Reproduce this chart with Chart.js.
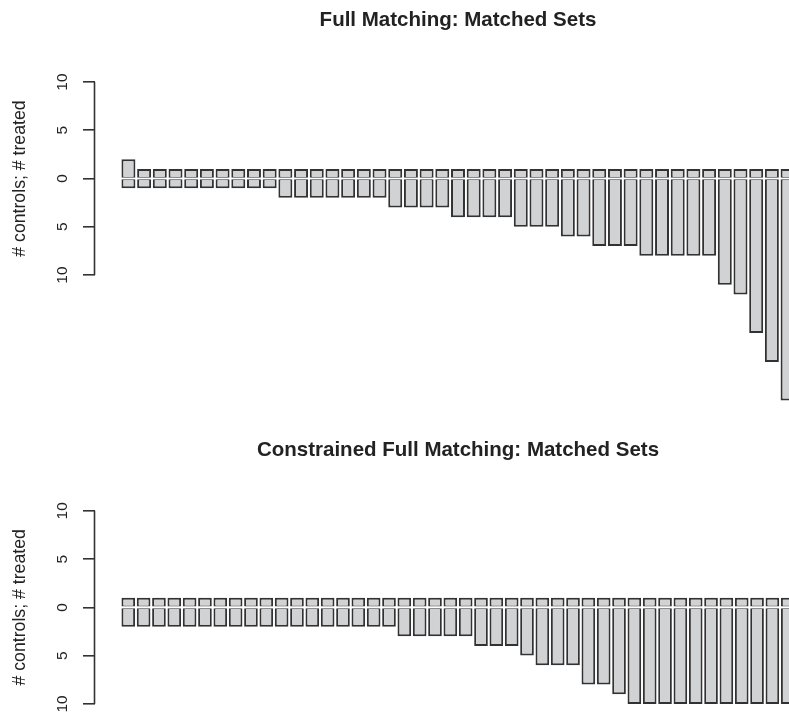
<!DOCTYPE html>
<html lang="en">
<head>
    <meta charset="UTF-8">
    <title>Matched Sets</title>
    <style>
        html, body { margin: 0; padding: 0; background: #fff; overflow: hidden; width: 789px; height: 715px; }
        .painel { position: absolute; left: 0; }
        #chart1 { top: 0; }
        #chart2 { top: 430px; }
    </style>
</head>
<body>
    <canvas id="chart1" class="painel" width="830" height="430"></canvas>
    <canvas id="chart2" class="painel" width="830" height="330"></canvas>

<script src="https://cdn.jsdelivr.net/npm/chart.js"></script>
<script>
    // dados (um valor por conjunto pareado)
    var fullTreated = [2, 1, 1, 1, 1, 1, 1, 1, 1, 1,
                       1, 1, 1, 1, 1, 1, 1, 1, 1, 1,
                       1, 1, 1, 1, 1, 1, 1, 1, 1, 1,
                       1, 1, 1, 1, 1, 1, 1, 1, 1, 1,
                       1, 1, 1];
    var fullControls = [1, 1, 1, 1, 1, 1, 1, 1, 1, 1,
                        2, 2, 2, 2, 2, 2, 2,
                        3, 3, 3, 3,
                        4, 4, 4, 4,
                        5, 5, 5,
                        6, 6,
                        7, 7, 7,
                        8, 8, 8, 8, 8,
                        11, 12, 16, 19, 23];

    var consTreated = [1, 1, 1, 1, 1, 1, 1, 1, 1, 1,
                       1, 1, 1, 1, 1, 1, 1, 1, 1, 1,
                       1, 1, 1, 1, 1, 1, 1, 1, 1, 1,
                       1, 1, 1, 1, 1, 1, 1, 1, 1, 1,
                       1, 1, 1, 1];
    var consControls = [2, 2, 2, 2, 2, 2, 2, 2, 2, 2,
                        2, 2, 2, 2, 2, 2, 2, 2,
                        3, 3, 3, 3, 3,
                        4, 4, 4,
                        5,
                        6, 6, 6,
                        8, 8,
                        9,
                        10, 10, 10, 10, 10, 10, 10, 10, 10, 10, 10];

    var yTickValues = [-10, -5, 0, 5, 10];
    var yTickLabels = ['10', '5', '0', '5', '10'];
    var yTitle = '# controls; # treated';

    var fonte = "'Liberation Sans', Arial, Helvetica, sans-serif";
    var corBarra = '#d1d2d4';
    var corBorda = '#323232';
    var corTexto = '#222';

    // linha do eixo y so entre 10 e -10, como no R
    var linhaEixo = {
        id: 'linhaEixo',
        afterDraw(chart) {
            var s = chart.scales.y;
            var ctx = chart.ctx;
            ctx.save();
            ctx.strokeStyle = corBorda;
            ctx.lineWidth = 1.6;
            ctx.beginPath();
            ctx.moveTo(s.right - 0.5, s.getPixelForValue(yTickValues[0]));
            ctx.lineTo(s.right - 0.5, s.getPixelForValue(yTickValues[yTickValues.length - 1]));
            ctx.stroke();
            ctx.restore();
        }
    };

    function montar(canvasId, titulo, treated, controls, padTop, padBottom) {
        var n = treated.length;
        // limites do eixo x como o barplot do R (space = 0.2, 4% de folga)
        var faixa = n * 1.2 - 0.2;
        var xmin = (0.2 - 0.04 * faixa + 0.5) / 1.2;
        var xmax = (n * 1.2 + 0.04 * faixa + 0.5) / 1.2;

        var dsTreated = treated.map((v, i) => ({ x: i + 1, y: v }));
        var dsControls = controls.map((v, i) => ({ x: i + 1, y: -v }));

        return new Chart(document.getElementById(canvasId), {
            type: 'bar',
            data: {
                datasets: [
                    {
                        label: 'treated',
                        data: dsTreated,
                        backgroundColor: corBarra,
                        borderColor: corBorda,
                        borderWidth: { top: 2, left: 2, right: 2, bottom: 1 },
                        borderSkipped: false,
                        barPercentage: 0.89,
                        categoryPercentage: 1,
                        clip: false
                    },
                    {
                        label: 'controls',
                        data: dsControls,
                        backgroundColor: corBarra,
                        borderColor: corBorda,
                        borderWidth: { top: 1, left: 2, right: 2, bottom: 2 },
                        borderSkipped: false,
                        barPercentage: 0.89,
                        categoryPercentage: 1,
                        clip: false
                    }
                ]
            },
            options: {
                responsive: false,
                animation: false,
                devicePixelRatio: 1,
                layout: { padding: { left: 0, right: 9, top: 0, bottom: padBottom } },
                plugins: {
                    legend: { display: false },
                    tooltip: { enabled: false },
                    title: {
                        display: true,
                        text: titulo,
                        fullSize: false,
                        color: corTexto,
                        font: { family: fonte, size: 20.5, weight: 'bold' },
                        padding: { top: 7.7, bottom: padTop }
                    }
                },
                scales: {
                    x: {
                        type: 'linear',
                        stacked: true,
                        min: xmin,
                        max: xmax,
                        display: false,
                        ticks: { display: false },
                        afterBuildTicks: function (s) { s.ticks = []; }
                    },
                    y: {
                        stacked: true,
                        min: -10.8,
                        max: 10.8,
                        afterFit: function (s) { s.width = 95; },
                        afterBuildTicks: function (s) {
                            s.ticks = yTickValues.map(v => ({ value: v }));
                        },
                        border: { display: false },
                        grid: {
                            drawOnChartArea: false,
                            drawTicks: true,
                            tickLength: 12,
                            color: corBorda,
                            lineWidth: 1.6
                        },
                        ticks: {
                            autoSkip: false,
                            minRotation: 90,
                            maxRotation: 90,
                            crossAlign: 'center',
                            padding: 12,
                            color: corTexto,
                            font: { family: fonte, size: 15.5 },
                            callback: function (value) {
                                var k = yTickValues.indexOf(value);
                                return k >= 0 ? yTickLabels[k] : '';
                            }
                        },
                        title: {
                            display: true,
                            text: yTitle,
                            color: corTexto,
                            font: { family: fonte, size: 17.7 },
                            padding: { top: 9.5, bottom: 0 }
                        }
                    }
                }
            },
            plugins: [linhaEixo]
        });
    }

    var chart1 = montar('chart1', 'Full Matching: Matched Sets', fullTreated, fullControls, 42, 147.2);
    var chart2 = montar('chart2', 'Constrained Full Matching: Matched Sets', consTreated, consControls, 40.8, 48.4);
</script>
</body>
</html>
